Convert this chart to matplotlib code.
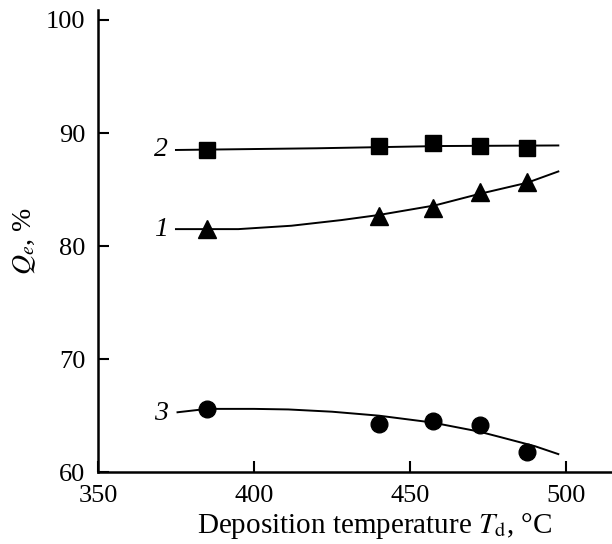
import matplotlib.pyplot as plt

plt.rcParams['font.family'] = 'Liberation Serif'
plt.rcParams['mathtext.fontset'] = 'stix'

# measured points
temp = [385, 440, 457.5, 472.5, 487.5]
q1 = [81.5, 82.7, 83.4, 84.8, 85.7]   # triangles
q2 = [88.5, 88.85, 89.1, 88.85, 88.65]  # squares
q3 = [65.6, 64.3, 64.5, 64.2, 61.8]   # circles

# fitted curves
fit1_t = [375, 395, 412, 428, 440, 458, 472, 487.5, 497.5]
fit1_q = [81.5, 81.5, 81.8, 82.3, 82.75, 83.6, 84.6, 85.6, 86.6]
fit2_t = [375, 420, 460, 497.5]
fit2_q = [88.5, 88.65, 88.85, 88.9]
fit3_t = [375.5, 385, 400, 411, 425, 440, 457, 472, 479, 490, 497.5]
fit3_q = [65.3, 65.6, 65.6, 65.55, 65.35, 65.0, 64.4, 63.6, 63.1, 62.3, 61.6]

curve_labels = ['1', '2', '3']
label_y = [81.5, 88.5, 65.2]

fig = plt.figure(figsize=(6.12, 5.44), dpi=100)
ax = fig.add_axes([0.160, 0.132, 0.840, 0.850])

ax.plot(fit1_t, fit1_q, '-', color='black', lw=1.4)
ax.plot(fit2_t, fit2_q, '-', color='black', lw=1.4)
ax.plot(fit3_t, fit3_q, '-', color='black', lw=1.4)

ax.plot(temp, q1, '^', color='black', ms=13, ls='none')
ax.plot(temp, q2, 's', color='black', ms=12, ls='none')
ax.plot(temp, q3, 'o', color='black', ms=12, ls='none')

for lab, yy in zip(curve_labels, label_y):
    ax.text(372.5, yy, lab, fontsize=20, style='italic', ha='right', va='center')

ax.set_xlim(350, 514.7)
ax.set_ylim(60, 100.9)
ax.set_xticks([350, 400, 450, 500])
ax.set_yticks([60, 70, 80, 90, 100])

for s in ['top', 'right']:
    ax.spines[s].set_visible(False)
for s in ['left', 'bottom']:
    ax.spines[s].set_linewidth(1.8)

ax.tick_params(direction='in', length=8, width=1.5, labelsize=19, pad=9)

ax.set_xlabel(r'Deposition temperature $T_\mathrm{d}$, °C', fontsize=21, x=0.539, labelpad=3)
ax.set_ylabel(r'$Q_e$, %', fontsize=20, labelpad=6)

plt.savefig('out.png', dpi=100)
plt.close()
